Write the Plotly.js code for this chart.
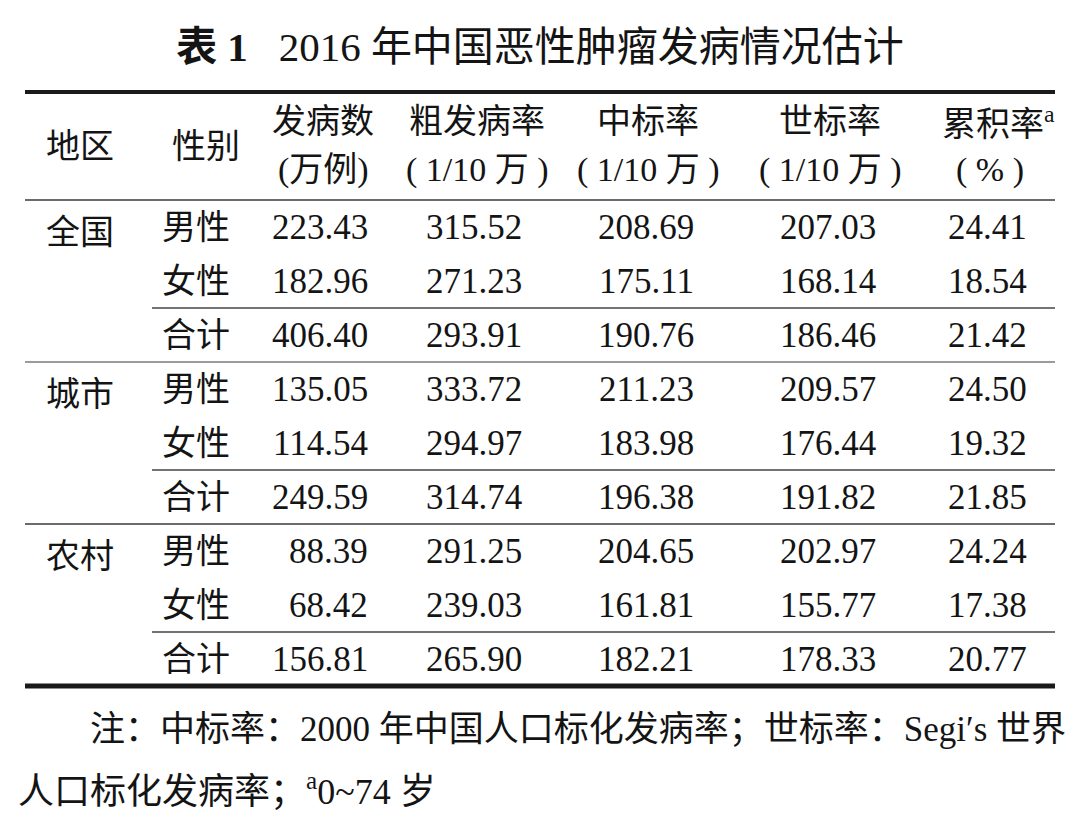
<!DOCTYPE html>
<html>
<head>
<meta charset="utf-8">
<script src="https://cdn.plot.ly/plotly-3.0.1.min.js"></script>
<style>html,body{margin:0;padding:0;background:#fff;}#chart{width:1080px;height:833px;}</style>
</head>
<body>
<div id="chart"></div>
<script>
// ---- data ----
var titleText = '<b>表 1</b>\u00A0\u00A0\u00A02016 年中国恶性肿瘤发病情况估计';
var regions = ['全国', '城市', '农村'];
var sexes = ['男性', '女性', '合计'];
var headerTop = ['地区', '性别', '发病数', '粗发病率', '中标率', '世标率', '累积率<sup>a</sup>'];
var headerBottom = ['', '', '(万例)', '( 1/10 万 )', '( 1/10 万 )', '( 1/10 万 )', '( % )'];
var cases = [223.43, 182.96, 406.40, 135.05, 114.54, 249.59, 88.39, 68.42, 156.81];
var crudeRate = [315.52, 271.23, 293.91, 333.72, 294.97, 314.74, 291.25, 239.03, 265.90];
var chinaStdRate = [208.69, 175.11, 190.76, 211.23, 183.98, 196.38, 204.65, 161.81, 182.21];
var worldStdRate = [207.03, 168.14, 186.46, 209.57, 176.44, 191.82, 202.97, 155.77, 178.33];
var cumRate = [24.41, 18.54, 21.42, 24.50, 19.32, 21.85, 24.24, 17.38, 20.77];
var noteLines = ['注：中标率：2000 年中国人口标化发病率；世标率：Segi′s 世界', '人口标化发病率；<sup>a</sup>0~74 岁'];

// ---- layout constants ----
var FONT = 'Liberation Serif, "Noto Sans CJK SC", serif';
var COLOR = '#141414';
var headerCenters = [80, 206, 323, 477, 648, 830, 990];
var sexCenter = 196;
var numRight = [370, 524, 696, 878, 1029];
var fullLeft = 25, partLeft = 152, lineRight = 1055;

var numCols = [cases, crudeRate, chinaStdRate, worldStdRate, cumRate];
var ann = [];
function txt(x, y, t, anchor, size) {
  ann.push({x: x, y: y, xref: 'x', yref: 'y', text: t, showarrow: false,
    xanchor: anchor, yanchor: 'middle', font: {family: FONT, size: size || 34, color: COLOR}});
}
// headers
headerTop.forEach(function (h, i) {
  var y = (i < 2) ? -1.5 : -1.95;
  txt(headerCenters[i] + (i === 6 ? 8 : 0), y, h, 'center');
});
headerBottom.forEach(function (h, i) { if (h) txt(headerCenters[i], -1.05, h, 'center'); });
// rows
var nRows = regions.length * sexes.length;
for (var r = 0; r < nRows; r++) {
  var g = Math.floor(r / sexes.length), s = r % sexes.length;
  if (s === 0) txt(headerCenters[0], r + 0.1, regions[g], 'center');
  txt(sexCenter, r, sexes[s], 'center');
  numCols.forEach(function (col, c) { txt(numRight[c], r, col[r].toFixed(2), 'right', 35); });
}
// notes
txt(88, 9.31, noteLines[0], 'left', 35);
txt(16, 10.42, noteLines[1], 'left', 36);

// rules
var shapes = [];
function rule(x0, y, w, col) {
  shapes.push({type: 'line', xref: 'x', yref: 'y', x0: x0, x1: lineRight, y0: y, y1: y,
    line: {color: col, width: w}});
}
rule(fullLeft, -2.5, 4, '#1a1a1a');
rule(fullLeft, -0.5, 1.6, '#3a3a3a');
for (var gi = 0; gi < regions.length; gi++) {
  var last = (gi + 1) * sexes.length - 1;
  rule(partLeft, last - 0.5, 1.4, '#444');
  if (gi < regions.length - 1) rule(fullLeft, last + 0.5, 1.6, gi === 0 ? '#7a7a7a' : '#3a3a3a');
}
rule(fullLeft, nRows - 0.5, 5, '#1a1a1a');

var layout = {
  width: 1080, height: 833,
  margin: {l: 0, r: 0, t: 0, b: 0},
  paper_bgcolor: '#fff', plot_bgcolor: '#fff',
  showlegend: false,
  title: {text: titleText, x: 0.5, xanchor: 'center', y: 1 - 47 / 833, yref: 'container', yanchor: 'middle',
    font: {family: FONT, size: 41, color: COLOR}},
  xaxis: {range: [0, 1080], visible: false, fixedrange: true},
  yaxis: {range: [(833 - 227) / 54, -227 / 54], visible: false, fixedrange: true},
  annotations: ann,
  shapes: shapes
};
Plotly.newPlot('chart', [{x: [], y: [], type: 'scatter', mode: 'markers', hoverinfo: 'skip'}], layout, {staticPlot: true, displayModeBar: false});
</script>
</body>
</html>
